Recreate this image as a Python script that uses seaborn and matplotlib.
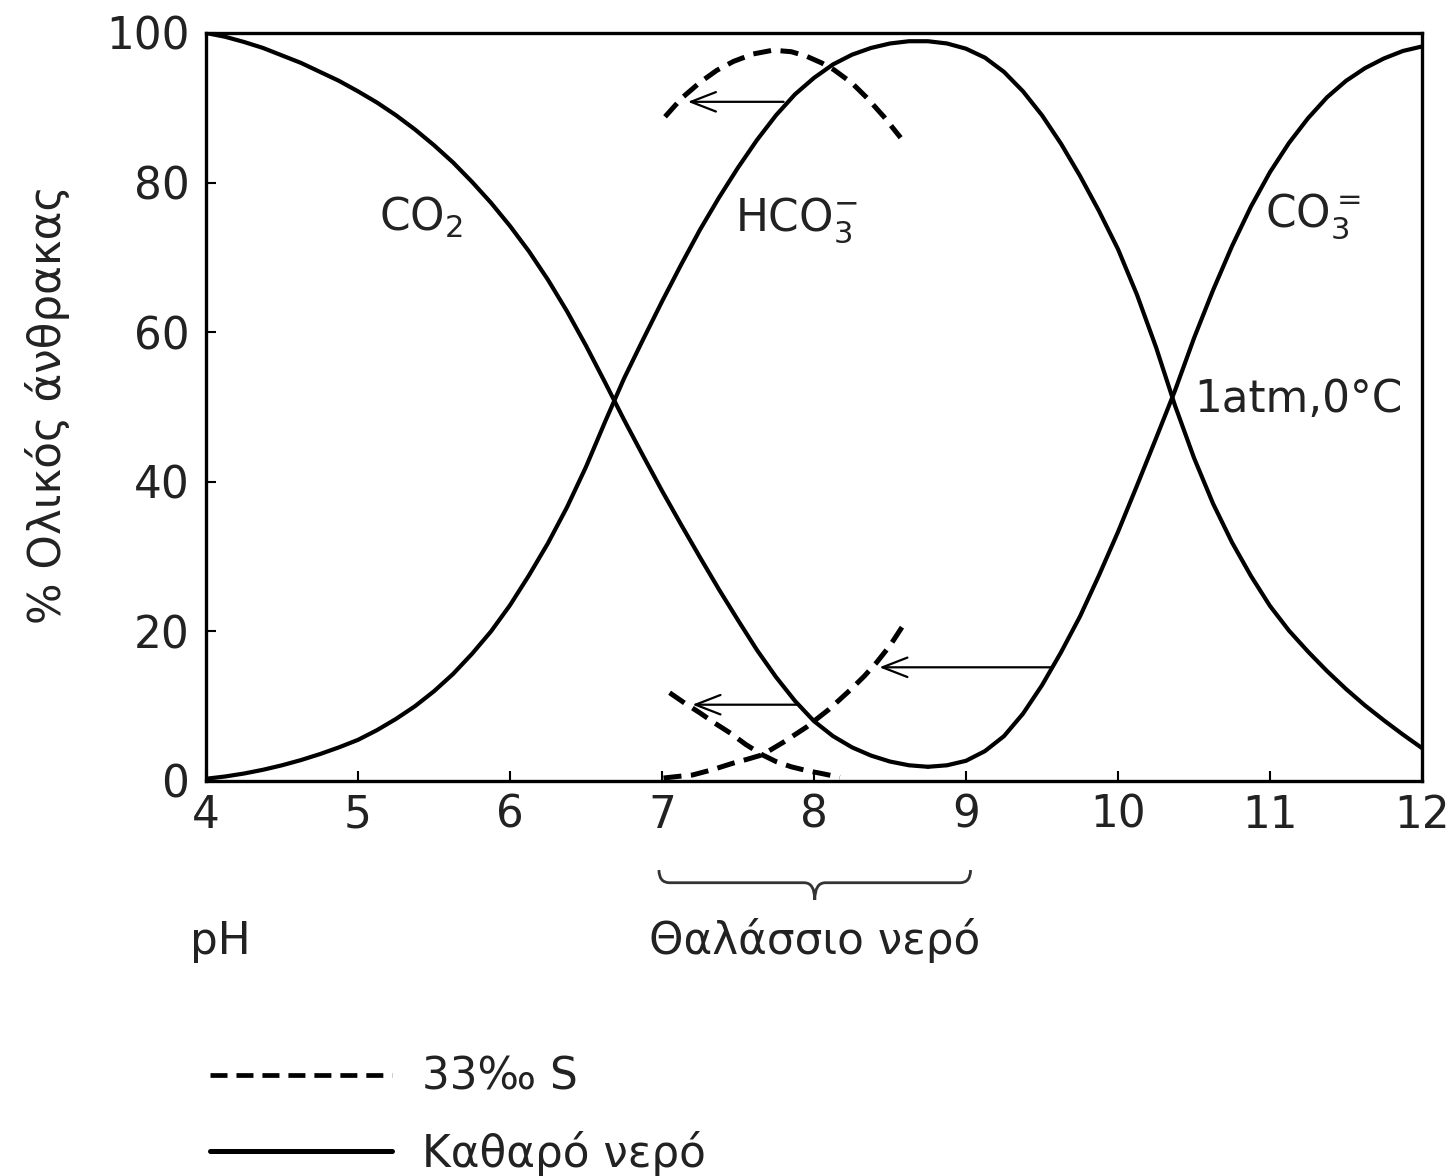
import numpy as np
import pandas as pd
import matplotlib
matplotlib.use("Agg")
import matplotlib.pyplot as plt
import matplotlib.transforms as mtransforms
from matplotlib.path import Path
from matplotlib.patches import PathPatch
from matplotlib.lines import Line2D
import seaborn as sns

# Fresh water (1 atm, 0 °C): % of total inorganic carbon against pH
ph_co2 = [4.0, 4.125, 4.25, 4.375, 4.5, 4.625, 4.75, 4.875, 5.0, 5.125, 5.25,
          5.375, 5.5, 5.625, 5.75, 5.875, 6.0, 6.125, 6.25, 6.375, 6.5, 6.625,
          6.75, 6.875, 7.0, 7.125, 7.25, 7.375, 7.5, 7.625, 7.75, 7.875, 8.0,
          8.125, 8.25, 8.375, 8.5, 8.625, 8.75]
pct_co2 = [100.0, 99.5, 98.8, 98.0, 97.0, 96.0, 94.8, 93.6, 92.2, 90.7, 89.0,
           87.1, 85.0, 82.7, 80.1, 77.3, 74.2, 70.8, 67.0, 62.8, 58.2, 53.3,
           48.3, 43.5, 38.8, 34.3, 29.9, 25.6, 21.5, 17.5, 13.9, 10.7, 8.0,
           6.0, 4.5, 3.4, 2.6, 2.1, 1.9]

ph_hco3 = [4.0, 4.125, 4.25, 4.375, 4.5, 4.625, 4.75, 4.875, 5.0, 5.125, 5.25,
           5.375, 5.5, 5.625, 5.75, 5.875, 6.0, 6.125, 6.25, 6.375, 6.5, 6.625,
           6.75, 6.875, 7.0, 7.125, 7.25, 7.375, 7.5, 7.625, 7.75, 7.875, 8.0,
           8.125, 8.25, 8.375, 8.5, 8.625, 8.75, 8.875, 9.0, 9.125, 9.25, 9.375,
           9.5, 9.625, 9.75, 9.875, 10.0, 10.125, 10.25, 10.375, 10.5, 10.625,
           10.75, 10.875, 11.0, 11.125, 11.25, 11.375, 11.5, 11.625, 11.75,
           11.875, 12.0]
pct_hco3 = [0.3, 0.6, 1.0, 1.5, 2.1, 2.8, 3.6, 4.5, 5.5, 6.8, 8.3,
            10.0, 12.0, 14.3, 17.0, 20.0, 23.5, 27.5, 31.8, 36.6, 42.0, 48.0,
            53.8, 59.0, 64.1, 69.0, 73.7, 78.0, 82.0, 85.7, 89.0, 91.8, 94.0,
            95.8, 97.1, 98.0, 98.6, 98.9, 98.9, 98.6, 97.9, 96.7, 94.8, 92.2,
            89.0, 85.2, 80.9, 76.2, 71.1, 65.0, 58.0, 50.2, 43.2, 37.1,
            31.9, 27.4, 23.4, 20.1, 17.3, 14.7, 12.3, 10.1, 8.1,
            6.2, 4.4]

ph_co3 = [8.75, 8.875, 9.0, 9.125, 9.25, 9.375, 9.5, 9.625, 9.75, 9.875, 10.0,
          10.125, 10.25, 10.375, 10.5, 10.625, 10.75, 10.875, 11.0, 11.125,
          11.25, 11.375, 11.5, 11.625, 11.75, 11.875, 12.0]
pct_co3 = [1.9, 2.1, 2.7, 4.0, 6.0, 9.0, 12.8, 17.2, 22.0, 27.5, 33.3,
           39.5, 45.8, 52.2, 59.2, 65.6, 71.5, 76.8, 81.4, 85.3,
           88.6, 91.4, 93.6, 95.3, 96.6, 97.6, 98.2]

# Seawater, 33‰ salinity
ph_sw_hco3 = [7.02, 7.13, 7.25, 7.36, 7.47, 7.6, 7.73, 7.85, 7.95, 8.05, 8.13,
              8.25, 8.35, 8.46, 8.57]
pct_sw_hco3 = [88.8, 91.3, 93.4, 95.0, 96.2, 97.2, 97.7, 97.5, 96.9, 96.0, 95.1,
               93.3, 91.3, 88.8, 86.0]

ph_sw_co2 = [7.05, 7.15, 7.25, 7.35, 7.45, 7.55, 7.66, 7.75, 7.85, 7.95, 8.05, 8.17]
pct_sw_co2 = [11.8, 10.4, 9.1, 7.7, 6.4, 4.9, 3.5, 2.6, 1.9, 1.4, 1.0, 0.5]

ph_sw_co3 = [7.01, 7.10, 7.20, 7.33, 7.47, 7.56, 7.66, 7.80, 7.95, 8.10, 8.24,
             8.33, 8.41, 8.50, 8.58]
pct_sw_co3 = [0.4, 0.6, 0.8, 1.5, 2.4, 2.9, 3.5, 5.2, 7.2, 9.6, 12.2,
              14.0, 15.8, 18.1, 20.6]

# Shift of each species from fresh water to seawater
arrow_start_ph = [7.80, 7.90, 9.57]
arrow_end_ph = [7.17, 7.20, 8.43]
arrow_level = [90.8, 10.2, 15.2]

x_ticks = [4, 5, 6, 7, 8, 9, 10, 11, 12]
y_ticks = [0, 20, 40, 60, 80, 100]

seawater_range = (6.98, 9.03)


def frame(ph, pct, species, water):
    return pd.DataFrame({"pH": ph, "pct": pct, "species": species, "water": water})


curves = pd.concat([
    frame(ph_co2, pct_co2, "CO2", "fresh"),
    frame(ph_hco3, pct_hco3, "HCO3", "fresh"),
    frame(ph_co3, pct_co3, "CO3", "fresh"),
    frame(ph_sw_hco3, pct_sw_hco3, "HCO3", "sea"),
    frame(ph_sw_co2, pct_sw_co2, "CO2", "sea"),
    frame(ph_sw_co3, pct_sw_co3, "CO3", "sea"),
], ignore_index=True)

sns.set_theme(style="ticks")
plt.rcParams["font.family"] = ["DejaVu Sans"]
plt.rcParams["mathtext.fontset"] = "dejavusans"

FS = 31.5
TXT = "#222222"
W, H = 1452, 1176
fig = plt.figure(figsize=(W / 100, H / 100), dpi=100, facecolor="white")
ax = fig.add_axes([206 / W, 1 - 781 / H, (1422 - 206) / W, (781 - 33) / H])
ax.set_facecolor("white")

dash = (0, (3.6, 1.9))
for (species, water), sub in curves.groupby(["species", "water"], sort=False):
    if water == "fresh":
        sns.lineplot(data=sub, x="pH", y="pct", ax=ax, color="black", lw=3.0,
                     sort=False, estimator=None, solid_capstyle="round",
                     solid_joinstyle="round")
    else:
        sns.lineplot(data=sub, x="pH", y="pct", ax=ax, color="black", lw=3.6,
                     sort=False, estimator=None, linestyle=dash,
                     dash_capstyle="butt")

for x0, x1, lvl in zip(arrow_start_ph, arrow_end_ph, arrow_level):
    ax.annotate("", xy=(x1, lvl), xytext=(x0, lvl),
                arrowprops=dict(arrowstyle="->,head_length=0.9,head_width=0.35",
                                color="black", lw=1.6, shrinkA=0, shrinkB=0,
                                mutation_scale=20))

ax.set_xlim(4, 12)
ax.set_ylim(0, 100)
ax.set_xticks(x_ticks)
ax.set_yticks(y_ticks)
ax.tick_params(axis="both", direction="in", length=7, width=1.5,
               labelsize=FS, colors="black", labelcolor=TXT)
ax.tick_params(axis="y", pad=12)
ax.tick_params(axis="x", pad=9)
for s in ax.spines.values():
    s.set_visible(True)
    s.set_linewidth(2.4)
    s.set_color("black")

ax.set_xlabel("")
ax.set_ylabel("% Ολικός άνθρακας", fontsize=FS, color=TXT)
ax.yaxis.set_label_coords(-0.112, 0.503)

# Species labels
ax.text(5.14, 75.3, "CO$_2$", fontsize=FS, ha="left", va="center", color=TXT)
ax.text(7.48, 75.0, "HCO$_3^{-}$", fontsize=FS, ha="left", va="center", color=TXT)
ax.text(10.97, 75.5, "CO$_3^{=}$", fontsize=FS, ha="left", va="center", color=TXT)
ax.text(10.5, 51.0, "1atm,0°C", fontsize=FS, ha="left", va="center", color=TXT)

# Brace marking the seawater pH range
trans = mtransforms.blended_transform_factory(ax.transData, ax.transAxes)
xl, xr = seawater_range
xc = 0.5 * (xl + xr)
r = 0.07
y_end, y_line, y_tip = -0.119, -0.136, -0.159
verts = [(xl, y_end), (xl, y_line), (xl + r, y_line),
         (xc - r, y_line), (xc, y_line), (xc, y_tip),
         (xc, y_line), (xc + r, y_line),
         (xr - r, y_line), (xr, y_line), (xr, y_end)]
codes = [Path.MOVETO, Path.CURVE3, Path.CURVE3,
         Path.LINETO, Path.CURVE3, Path.CURVE3,
         Path.CURVE3, Path.CURVE3,
         Path.LINETO, Path.CURVE3, Path.CURVE3]
ax.add_patch(PathPatch(Path(verts, codes), fill=False, lw=2.0, color="#333333",
                       transform=trans, clip_on=False))
ax.text(xc, -0.213, "Θαλάσσιο νερό", transform=trans, fontsize=FS,
        ha="center", va="center", color=TXT)
ax.text(3.895, -0.215, "pH", transform=trans, fontsize=FS,
        ha="left", va="center", color=TXT)

handles = [Line2D([], [], color="black", lw=3.4, linestyle=dash),
           Line2D([], [], color="black", lw=3.6)]
fig.legend(handles, ["33‰ S", "Καθαρό νερό"], loc="upper left",
           bbox_to_anchor=(210 / W, 1 - 1056 / H), frameon=False,
           fontsize=FS, handlelength=4.15, handletextpad=0.7,
           labelspacing=0.72, borderpad=0, borderaxespad=0, labelcolor=TXT)

fig.savefig("out.png", dpi=100, facecolor="white")
